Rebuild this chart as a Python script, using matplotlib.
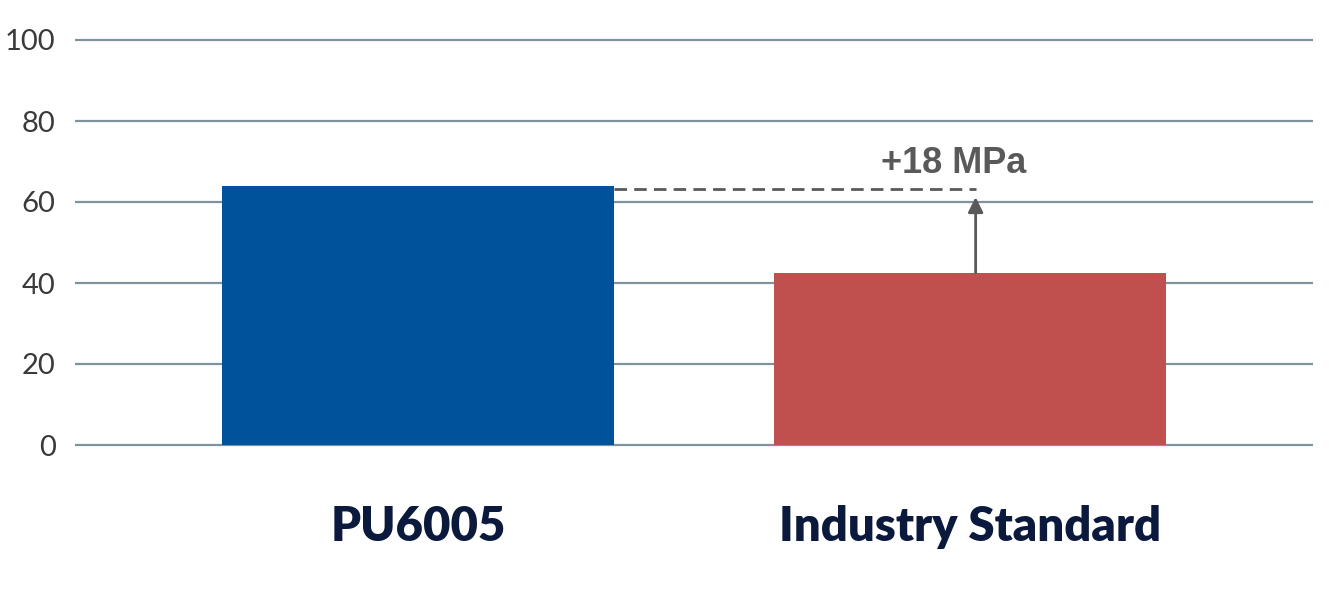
import matplotlib
matplotlib.use("Agg")
import matplotlib.pyplot as plt

categories = ["PU6005", "Industry Standard"]
values = [64.0, 42.5]
ref_level = 63.2
arrow_tip = 61.2
delta_label = "+18 MPa"
yticks = [0, 20, 40, 60, 80, 100]

BLUE = "#00539B"
RED = "#C0504D"
GRID = "#7F939F"
NAVY = "#0B1A3C"
GREY = "#595959"

fig = plt.figure(figsize=(13.4, 5.91), dpi=100)
# axes spans pixel x 75..1313, y 40..445 (padded by 0.5 unit)
pad = 0.5
ax = fig.add_axes([75 / 1340, 1 - 445 / 591 - pad * 4.05 / 591,
                   (1313 - 75) / 1340, (405 + 2 * pad * 4.05) / 591])

x = list(range(len(categories)))
ax.bar(x, values, width=0.71, color=[BLUE, RED], zorder=3)

ax.set_xlim(-0.621, 1.621)
ax.set_ylim(-pad, 100 + pad)
ax.set_yticks(yticks)
ax.set_yticklabels([str(t) for t in yticks], fontfamily="Lato", fontweight="normal",
                   fontsize=21, color="#3A3A3A")
ax.tick_params(axis="y", length=0, pad=14)
ax.set_xticks(x)
ax.set_xticklabels(categories, fontfamily="Lato", fontweight="heavy",
                   fontsize=34, color=NAVY)
ax.tick_params(axis="x", length=0, pad=42)

for t in yticks:
    ax.axhline(t, color=GRID, lw=1.6, zorder=1)
for s in ax.spines.values():
    s.set_visible(False)

# dashed reference line from bar 1 edge to arrow position
x_arrow = 1 + 0.01
ax.plot([0 + 0.355, x_arrow], [ref_level, ref_level], ls=(0, (4.5, 2.6)),
        color=GREY, lw=2.0, zorder=4)
ax.annotate("", xy=(x_arrow, arrow_tip), xytext=(x_arrow, values[1]),
            arrowprops=dict(arrowstyle="-|>,head_length=0.9,head_width=0.45",
                            color=GREY, lw=2.0, shrinkA=0, shrinkB=0), zorder=4)
ax.text(x_arrow - 0.04, 67.2, delta_label, ha="center", va="baseline",
        fontfamily="Liberation Sans", fontweight="bold", fontsize=26, color=GREY)

fig.savefig("out.png", dpi=100, facecolor="white")
